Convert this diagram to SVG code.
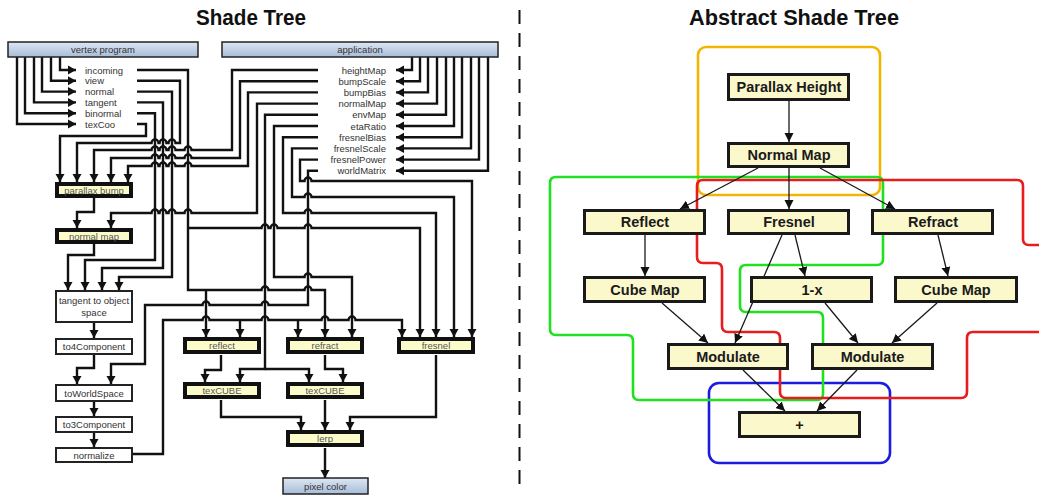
<svg xmlns="http://www.w3.org/2000/svg" width="1039" height="495" viewBox="0 0 1039 495">
<defs>
<linearGradient id="blue" x1="0" y1="0" x2="0" y2="1"><stop offset="0" stop-color="#dde7f3"/><stop offset="1" stop-color="#a8bcd8"/></linearGradient>
<marker id="ah" markerUnits="userSpaceOnUse" markerWidth="9" markerHeight="10" refX="8" refY="5" orient="auto"><path d="M0,0.5 L8,5 L0,9.5 z" fill="#111"/></marker>
<marker id="ah2" markerUnits="userSpaceOnUse" markerWidth="10" markerHeight="10" refX="9" refY="4.5" orient="auto"><path d="M0,0 L9,4.5 L0,9 z" fill="#111"/></marker>
<style>
.w{fill:none;stroke:#111;stroke-width:2.4;stroke-linejoin:miter}
.a{marker-end:url(#ah)}
.yb{fill:#fcfccb;stroke:#111;stroke-width:4}
.wb{fill:#fff;stroke:#222;stroke-width:2}
.bb{fill:url(#blue);stroke:#222;stroke-width:1.5}
.lt{font-family:"Liberation Sans",Arial,sans-serif;font-size:9.5px;fill:#333}
.ct{text-anchor:middle}
.en{text-anchor:end}
.yt{fill:#555}
.title{font-family:"Liberation Sans",Arial,sans-serif;font-size:22px;font-weight:bold;fill:#111;text-anchor:middle}
.rn{fill:#fbf8cc;stroke:#1a1a1a;stroke-width:3}
.rt{font-family:"Liberation Sans",Arial,sans-serif;font-size:14.5px;font-weight:bold;fill:#1a1a1a;text-anchor:middle}
.re{fill:none;stroke:#1a1a1a;stroke-width:1.3;marker-end:url(#ah2)}
.ol{fill:none;stroke-width:2.6}
</style>
</defs>
<rect width="1039" height="495" fill="#fff"/>

<text class="title" x="251" y="25" textLength="110" lengthAdjust="spacingAndGlyphs">Shade Tree</text>
<text class="title" x="794" y="25" textLength="210" lengthAdjust="spacingAndGlyphs">Abstract Shade Tree</text>
<line x1="519.5" y1="10" x2="519.5" y2="492" stroke="#111" stroke-width="2" stroke-dasharray="14 9"/>

<g id="connectors-left">
<path class="w a" d="M60 57 V70 H76"/>
<path class="w a" d="M51 57 V80.8 H76"/>
<path class="w a" d="M42 57 V91.6 H76"/>
<path class="w a" d="M34 57 V102.4 H76"/>
<path class="w a" d="M25 57 V113.2 H76"/>
<path class="w a" d="M17 57 V124 H76"/>
<path class="w a" d="M412 57 V70 H396"/>
<path class="w a" d="M420 57 V81.2 H396"/>
<path class="w a" d="M428 57 V92.4 H396"/>
<path class="w a" d="M437 57 V103.6 H396"/>
<path class="w a" d="M446 57 V114.8 H396"/>
<path class="w a" d="M454 57 V126 H396"/>
<path class="w a" d="M462 57 V137.2 H396"/>
<path class="w a" d="M471 57 V148.4 H396"/>
<path class="w a" d="M479 57 V159.6 H396"/>
<path class="w a" d="M488 57 V170.8 H396"/>
<!-- vertex outputs -->
<path class="w a" d="M137 124 H146 V136 H60 V182"/>
<path class="w a" d="M137 80.8 H180 V143 H175.5 A3.5 3.5 0 0 0 168.5 143 H166.5 A3.5 3.5 0 0 0 159.5 143 H158.5 A3.5 3.5 0 0 0 151.5 143 H77 V182"/>
<path class="w a" d="M137 113.2 H155 V260 H85 V290"/>
<path class="w a" d="M137 102.4 H163 V268 H102 V290"/>
<path class="w a" d="M137 91.6 H172 V277 H119 V290"/>
<path class="w a" d="M137 70 H188 V290 H261.5 A3.5 3.5 0 0 1 268.5 290 H304.5 A3.5 3.5 0 0 1 311.5 290 H325 V337"/>
<path class="w a" d="M206 290 V337"/>
<path class="w a" d="M188 228 H261.5 A3.5 3.5 0 0 1 268.5 228 H270.5 A3.5 3.5 0 0 1 277.5 228 H304.5 A3.5 3.5 0 0 1 311.5 228 H420 V337"/>
<!-- application outputs -->
<path class="w a" d="M318 70 H232 V150 H191.5 A3.5 3.5 0 0 0 184.5 150 H175.5 A3.5 3.5 0 0 0 168.5 150 H166.5 A3.5 3.5 0 0 0 159.5 150 H158.5 A3.5 3.5 0 0 0 151.5 150 H94 V182"/>
<path class="w a" d="M318 81.2 H240 V158 H191.5 A3.5 3.5 0 0 0 184.5 158 H175.5 A3.5 3.5 0 0 0 168.5 158 H166.5 A3.5 3.5 0 0 0 159.5 158 H158.5 A3.5 3.5 0 0 0 151.5 158 H111 V182"/>
<path class="w a" d="M318 92.4 H248 V166 H191.5 A3.5 3.5 0 0 0 184.5 166 H175.5 A3.5 3.5 0 0 0 168.5 166 H166.5 A3.5 3.5 0 0 0 159.5 166 H158.5 A3.5 3.5 0 0 0 151.5 166 H128 V182"/>
<path class="w a" d="M318 103.6 H257 V213 H191.5 A3.5 3.5 0 0 0 184.5 213 H175.5 A3.5 3.5 0 0 0 168.5 213 H166.5 A3.5 3.5 0 0 0 159.5 213 H158.5 A3.5 3.5 0 0 0 151.5 213 H111 V228"/>
<path class="w a" d="M318 114.8 H265 V369 H240 V382"/>
<path class="w a" d="M265 369 H309 V382"/>
<path class="w a" d="M318 126 H274 V277 H304.5 A3.5 3.5 0 0 1 311.5 277 H352 V337"/>
<path class="w a" d="M318 137.2 H283 V213 H304.5 A3.5 3.5 0 0 1 311.5 213 H436 V337"/>
<path class="w a" d="M318 148.4 H292 V197 H304.5 A3.5 3.5 0 0 1 311.5 197 H454 V337"/>
<path class="w a" d="M318 159.6 H300 V181 H304.5 A3.5 3.5 0 0 1 311.5 181 H472 V337"/>
<path class="w a" d="M318 170.8 H308 V305 H268.5 A3.5 3.5 0 0 0 261.5 305 H209.5 A3.5 3.5 0 0 0 202.5 305 H145 V364 H111 V384"/>
<!-- internal -->
<path class="w a" d="M94 198 V212 H77 V228"/>
<path class="w a" d="M94 244 V255 H68 V290"/>
<path class="w a" d="M94 323 V338"/>
<path class="w a" d="M94 355 V368 H77 V384"/>
<path class="w a" d="M94 402 V416"/>
<path class="w a" d="M94 433 V447"/>
<path class="w a" d="M133 454 H163 V320 H202.5 A3.5 3.5 0 0 1 209.5 320 H261.5 A3.5 3.5 0 0 1 268.5 320 H321.5 A3.5 3.5 0 0 1 328.5 320 H348.5 A3.5 3.5 0 0 1 355.5 320 H402 V337"/>
<path class="w a" d="M240 320 V337"/>
<path class="w a" d="M298 320 V337"/>
<path class="w a" d="M221 355 V370 H205 V382"/>
<path class="w a" d="M325 355 V369 H343 V382"/>
<path class="w a" d="M221 400 V417 H301 V430"/>
<path class="w a" d="M325 400 V430"/>
<path class="w a" d="M436 355 V417 H350 V430"/>
<path class="w a" d="M325 448 V478"/>
</g>

<g id="vertex-program"><rect class="bb" x="8" y="42" width="190" height="15"/><text class="lt ct" x="103" y="53">vertex program</text></g>
<g id="application"><rect class="bb" x="222" y="42" width="276" height="15"/><text class="lt ct" x="360" y="53">application</text></g>
<g id="vp-labels">
<text class="lt" x="85" y="73.5">incoming</text>
<text class="lt" x="85" y="84.3">view</text>
<text class="lt" x="85" y="95">normal</text>
<text class="lt" x="85" y="105.8">tangent</text>
<text class="lt" x="85" y="116.6">binormal</text>
<text class="lt" x="85" y="127.5">texCoo</text>
</g>
<g id="app-labels">
<text class="lt en" x="386" y="73.5">heightMap</text>
<text class="lt en" x="386" y="84.7">bumpScale</text>
<text class="lt en" x="386" y="95.9">bumpBias</text>
<text class="lt en" x="386" y="107.1">normalMap</text>
<text class="lt en" x="386" y="118.3">envMap</text>
<text class="lt en" x="386" y="129.5">etaRatio</text>
<text class="lt en" x="386" y="140.7">fresnelBias</text>
<text class="lt en" x="386" y="151.9">fresnelScale</text>
<text class="lt en" x="386" y="163.1">fresnelPower</text>
<text class="lt en" x="386" y="174.3">worldMatrix</text>
</g>
<g id="parallax-bump"><rect class="yb" x="57" y="184" width="74" height="12"/><text class="lt ct yt" x="94" y="193.5">parallax bump</text></g>
<g id="normal-map"><rect class="yb" x="57" y="230" width="74" height="12"/><text class="lt ct yt" x="94" y="239.5">normal map</text></g>
<g id="tangent-to-object"><rect class="wb" x="56" y="291" width="76" height="31"/><text class="lt ct" x="94" y="304">tangent to object</text><text class="lt ct" x="94" y="315.5">space</text></g>
<g id="to4Component"><rect class="wb" x="56" y="339" width="76" height="15"/><text class="lt ct" x="94" y="350">to4Component</text></g>
<g id="toWorldSpace"><rect class="wb" x="56" y="385" width="76" height="16"/><text class="lt ct" x="94" y="396.5">toWorldSpace</text></g>
<g id="to3Component"><rect class="wb" x="56" y="417" width="76" height="15"/><text class="lt ct" x="94" y="428">to3Component</text></g>
<g id="normalize"><rect class="wb" x="56" y="448" width="76" height="14"/><text class="lt ct" x="94" y="458.5">normalize</text></g>
<g id="reflect"><rect class="yb" x="185" y="339" width="74" height="13"/><text class="lt ct yt" x="222" y="349">reflect</text></g>
<g id="refract"><rect class="yb" x="288" y="339" width="74" height="13"/><text class="lt ct yt" x="325" y="349">refract</text></g>
<g id="fresnel"><rect class="yb" x="399" y="339" width="74" height="13"/><text class="lt ct yt" x="436" y="349">fresnel</text></g>
<g id="texCUBE-1"><rect class="yb" x="185" y="384" width="74" height="13"/><text class="lt ct yt" x="222" y="394">texCUBE</text></g>
<g id="texCUBE-2"><rect class="yb" x="288" y="384" width="74" height="13"/><text class="lt ct yt" x="325" y="394">texCUBE</text></g>
<g id="lerp"><rect class="yb" x="288" y="432" width="74" height="13"/><text class="lt ct yt" x="325" y="442">lerp</text></g>
<g id="pixel-color"><rect class="bb" x="283" y="478" width="85" height="16"/><text class="lt ct" x="325.5" y="489.5">pixel color</text></g>

<g id="outlines">
<rect class="ol" x="698" y="47" width="182" height="148" rx="8" stroke="#f2b500"/>
<rect class="ol" x="709" y="383" width="181" height="80" rx="10" stroke="#1c1ce0"/>
<path class="ol" stroke="#20e020" d="M556 177 H877 Q883 177 883 183 V259 Q883 265 877 265 H746 Q740 265 740 271 V306 Q740 312 746 312 H817 Q823 312 823 318 V394 Q823 400 817 400 H639 Q633 400 633 394 V341 Q633 335 627 335 H556 Q550 335 550 329 V183 Q550 177 556 177 Z"/>
<path class="ol" stroke="#e81c1c" d="M1039 245 H1029 Q1023 245 1023 239 V186 Q1023 180 1017 180 H703 Q697 180 697 186 V257 Q697 263 703 263 H716 Q722 263 722 269 V326 Q722 332 728 332 H774 Q780 332 780 338 V392 Q780 398 786 398 H961 Q967 398 967 392 V338 Q967 332 973 332 H1039"/>
</g>

<g id="connectors-right">
<line class="re" x1="789" y1="101" x2="789" y2="142"/>
<line class="re" x1="758" y1="168" x2="680" y2="209"/>
<line class="re" x1="789" y1="168" x2="789" y2="209"/>
<line class="re" x1="820" y1="168" x2="895" y2="209"/>
<line class="re" x1="645" y1="235" x2="645" y2="276"/>
<line class="re" x1="782" y1="235" x2="735" y2="343"/>
<line class="re" x1="795" y1="235" x2="805" y2="276"/>
<line class="re" x1="938" y1="235" x2="948" y2="276"/>
<line class="re" x1="662" y1="303" x2="708" y2="343"/>
<line class="re" x1="825" y1="303" x2="858" y2="343"/>
<line class="re" x1="937" y1="303" x2="892" y2="343"/>
<line class="re" x1="743" y1="370" x2="785" y2="411"/>
<line class="re" x1="857" y1="370" x2="817" y2="411"/>
</g>

<g id="r-parallax-height"><rect class="rn" x="728.5" y="74.5" width="120" height="25"/><text class="rt" x="789" y="92">Parallax Height</text></g>
<g id="r-normal-map"><rect class="rn" x="728.5" y="143.5" width="120" height="23"/><text class="rt" x="789" y="160">Normal Map</text></g>
<g id="r-reflect"><rect class="rn" x="584.5" y="210.5" width="120" height="23"/><text class="rt" x="645" y="227">Reflect</text></g>
<g id="r-fresnel"><rect class="rn" x="728.5" y="210.5" width="120" height="23"/><text class="rt" x="789" y="227">Fresnel</text></g>
<g id="r-refract"><rect class="rn" x="872.5" y="210.5" width="120" height="23"/><text class="rt" x="933" y="227">Refract</text></g>
<g id="r-cube-map-1"><rect class="rn" x="584.5" y="277.5" width="120" height="24"/><text class="rt" x="645" y="294.5">Cube Map</text></g>
<g id="r-one-minus-x"><rect class="rn" x="751.5" y="277.5" width="120" height="24"/><text class="rt" x="812" y="294.5">1-x</text></g>
<g id="r-cube-map-2"><rect class="rn" x="895.5" y="277.5" width="121" height="24"/><text class="rt" x="956" y="294.5">Cube Map</text></g>
<g id="r-modulate-1"><rect class="rn" x="668.5" y="344.5" width="119" height="24"/><text class="rt" x="728" y="361.5">Modulate</text></g>
<g id="r-modulate-2"><rect class="rn" x="812.5" y="344.5" width="120" height="24"/><text class="rt" x="872.5" y="361.5">Modulate</text></g>
<g id="r-plus"><rect class="rn" x="739.5" y="412.5" width="120" height="24"/><text class="rt" x="799.5" y="429.5">+</text></g>
</svg>
